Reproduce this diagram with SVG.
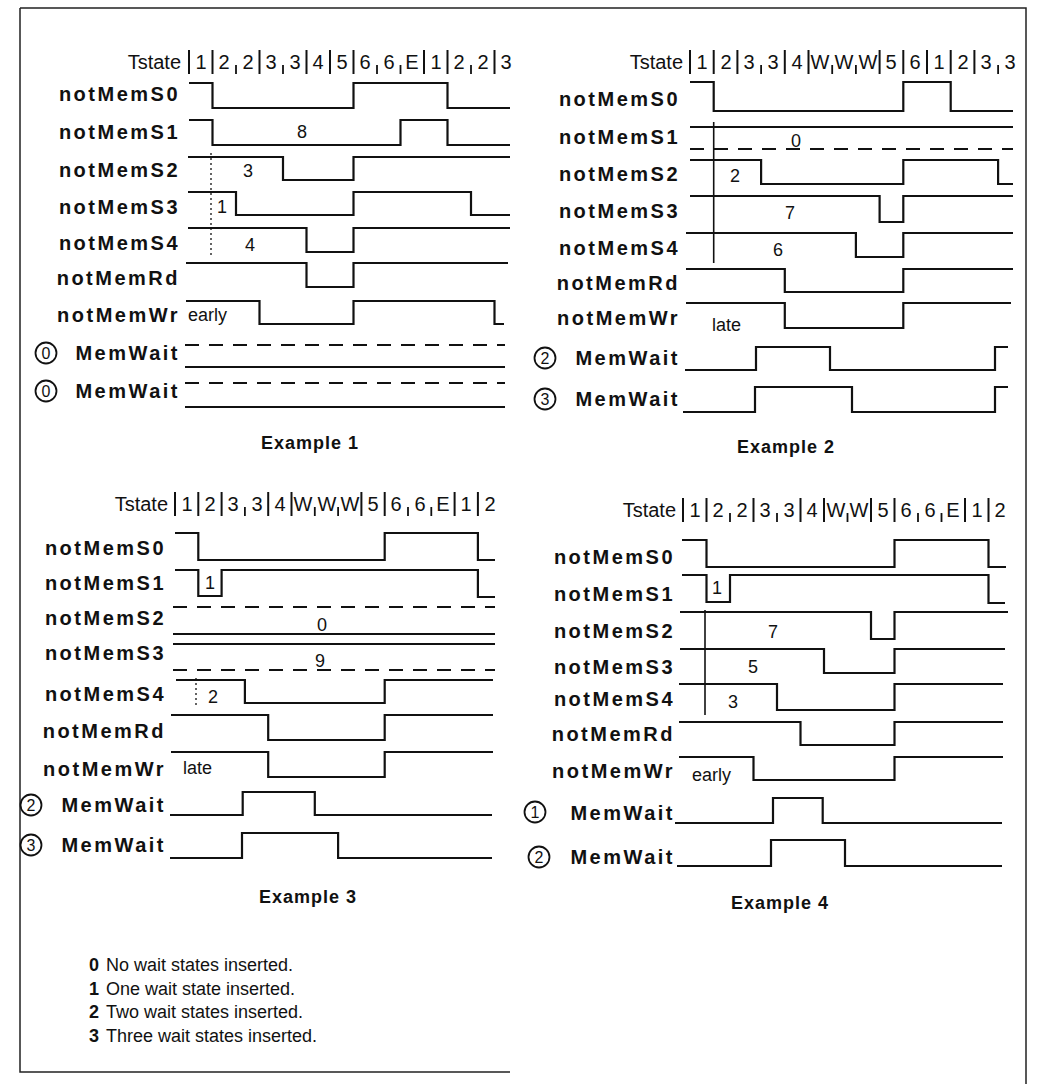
<svg xmlns="http://www.w3.org/2000/svg" width="1042" height="1084" viewBox="0 0 1042 1084">
<style>
.lbl{font-family:"Liberation Sans",Arial,sans-serif;font-weight:bold;font-size:20px;letter-spacing:2.5px;text-anchor:end;fill:#111}
.ts{font-family:"Liberation Sans",Arial,sans-serif;font-size:20px;fill:#111;text-anchor:middle}
.tsw{font-family:"Liberation Sans",Arial,sans-serif;font-size:20px;fill:#111;text-anchor:end}
.n{font-family:"Liberation Sans",Arial,sans-serif;font-size:18px;fill:#111;text-anchor:middle}
.nl{font-family:"Liberation Sans",Arial,sans-serif;font-size:18px;fill:#111}
.w{fill:none;stroke:#111;stroke-width:2.2}
.d{fill:none;stroke:#111;stroke-width:2.2;stroke-dasharray:14 10}
.dot{stroke:#111;stroke-width:1.3;stroke-dasharray:2 3}
.vl{stroke:#111;stroke-width:1.6}
.bar{stroke:#111;stroke-width:2}
.tk{stroke:#111;stroke-width:1.8}
.ex{font-family:"Liberation Sans",Arial,sans-serif;font-weight:bold;font-size:18px;letter-spacing:1px;text-anchor:middle;fill:#111}
.c{fill:none;stroke:#111;stroke-width:1.8}
.cn{font-family:"Liberation Sans",Arial,sans-serif;font-size:16px;fill:#111;text-anchor:middle}
.lg{font-family:"Liberation Sans",Arial,sans-serif;font-size:18px;fill:#111}
.lgb{font-family:"Liberation Sans",Arial,sans-serif;font-size:18px;font-weight:bold;fill:#111}
.frame{fill:none;stroke:#222;stroke-width:1.5}
</style>

<path class="frame" d="M20,8 H1026 V1084 M20,8 V1072 H510"/>

<!-- Example 1 -->
<g id="ex1">
  <g id="ex1-tstate">
    <text class="tsw" x="181" y="69">Tstate</text>
    <g>
      <line class="bar" x1="189" y1="50" x2="189" y2="74"/>
      <line class="bar" x1="212.5" y1="50" x2="212.5" y2="74"/>
      <line class="tk" x1="236" y1="65" x2="236" y2="74"/>
      <line class="bar" x1="259.5" y1="50" x2="259.5" y2="74"/>
      <line class="tk" x1="283" y1="65" x2="283" y2="74"/>
      <line class="bar" x1="306.5" y1="50" x2="306.5" y2="74"/>
      <line class="bar" x1="330" y1="50" x2="330" y2="74"/>
      <line class="bar" x1="353.5" y1="50" x2="353.5" y2="74"/>
      <line class="tk" x1="377" y1="65" x2="377" y2="74"/>
      <line class="tk" x1="400.5" y1="65" x2="400.5" y2="74"/>
      <line class="bar" x1="424" y1="50" x2="424" y2="74"/>
      <line class="bar" x1="447.5" y1="50" x2="447.5" y2="74"/>
      <line class="tk" x1="471" y1="65" x2="471" y2="74"/>
      <line class="bar" x1="494.5" y1="50" x2="494.5" y2="74"/>
    </g>
    <text class="ts" x="201" y="69">1</text>
    <text class="ts" x="224" y="69">2</text>
    <text class="ts" x="248" y="69">2</text>
    <text class="ts" x="271" y="69">3</text>
    <text class="ts" x="295" y="69">3</text>
    <text class="ts" x="318" y="69">4</text>
    <text class="ts" x="342" y="69">5</text>
    <text class="ts" x="365" y="69">6</text>
    <text class="ts" x="389" y="69">6</text>
    <text class="ts" x="412" y="69">E</text>
    <text class="ts" x="436" y="69">1</text>
    <text class="ts" x="459" y="69">2</text>
    <text class="ts" x="483" y="69">2</text>
    <text class="ts" x="506" y="69">3</text>
  </g>
  <g id="ex1-s0"><text class="lbl" x="180" y="101">notMemS0</text>
    <polyline class="w" points="189,83 212.5,83 212.5,108 353.5,108 353.5,83 447.5,83 447.5,108 510,108"/></g>
  <g id="ex1-s1"><text class="lbl" x="180" y="139">notMemS1</text>
    <polyline class="w" points="189,120 212.5,120 212.5,145 400.5,145 400.5,120 447.5,120 447.5,145 510,145"/>
    <text class="n" x="302" y="138">8</text></g>
  <g id="ex1-s2"><text class="lbl" x="180" y="177">notMemS2</text>
    <polyline class="w" points="188,157 283,157 283,180 353.5,180 353.5,157 510,157"/>
    <text class="n" x="248" y="177">3</text></g>
  <g id="ex1-s3"><text class="lbl" x="180" y="214">notMemS3</text>
    <polyline class="w" points="188,192 236,192 236,215 353.5,215 353.5,192 471,192 471,215 510,215"/>
    <text class="n" x="222" y="213">1</text></g>
  <g id="ex1-s4"><text class="lbl" x="180" y="250">notMemS4</text>
    <polyline class="w" points="188,228 306.5,228 306.5,252 353.5,252 353.5,228 510,228"/>
    <text class="n" x="250" y="251">4</text></g>
  <line class="dot" x1="211" y1="153" x2="211" y2="257"/>
  <g id="ex1-rd"><text class="lbl" x="180" y="285">notMemRd</text>
    <polyline class="w" points="186,263 306.5,263 306.5,287 353.5,287 353.5,263 508,263"/></g>
  <g id="ex1-wr"><text class="lbl" x="180" y="322">notMemWr</text>
    <polyline class="w" points="186,301 259.5,301 259.5,324 353.5,324 353.5,301 494.5,301 494.5,324 504,324"/>
    <text class="nl" x="188" y="321">early</text></g>
  <g id="ex1-mw0a">
    <circle class="c" cx="46" cy="353" r="10.5"/><text class="cn" x="46" y="359">0</text>
    <text class="lbl" x="180" y="360">MemWait</text>
    <line class="d" x1="185" y1="345" x2="505" y2="345"/>
    <line class="w" x1="185" y1="367" x2="505" y2="367"/></g>
  <g id="ex1-mw0b">
    <circle class="c" cx="46" cy="391" r="10.5"/><text class="cn" x="46" y="397">0</text>
    <text class="lbl" x="180" y="398">MemWait</text>
    <line class="d" x1="185" y1="383" x2="505" y2="383"/>
    <line class="w" x1="185" y1="407" x2="505" y2="407"/></g>
  <text class="ex" x="310" y="449">Example 1</text>
</g>

<!-- Example 2 -->
<g id="ex2">
  <g id="ex2-tstate">
    <text class="tsw" x="683" y="69">Tstate</text>
    <line class="bar" x1="690" y1="50" x2="690" y2="74"/>
    <line class="bar" x1="713.7" y1="50" x2="713.7" y2="74"/>
    <line class="bar" x1="737.4" y1="50" x2="737.4" y2="74"/>
    <line class="tk" x1="761.1" y1="65" x2="761.1" y2="74"/>
    <line class="bar" x1="784.8" y1="50" x2="784.8" y2="74"/>
    <line class="bar" x1="808.5" y1="50" x2="808.5" y2="74"/>
    <line class="tk" x1="832.2" y1="65" x2="832.2" y2="74"/>
    <line class="tk" x1="855.9" y1="65" x2="855.9" y2="74"/>
    <line class="bar" x1="879.6" y1="50" x2="879.6" y2="74"/>
    <line class="bar" x1="903.3" y1="50" x2="903.3" y2="74"/>
    <line class="bar" x1="927" y1="50" x2="927" y2="74"/>
    <line class="bar" x1="950.7" y1="50" x2="950.7" y2="74"/>
    <line class="bar" x1="974.4" y1="50" x2="974.4" y2="74"/>
    <line class="tk" x1="998.1" y1="65" x2="998.1" y2="74"/>
    <text class="ts" x="702" y="69">1</text>
    <text class="ts" x="726" y="69">2</text>
    <text class="ts" x="749" y="69">3</text>
    <text class="ts" x="773" y="69">3</text>
    <text class="ts" x="797" y="69">4</text>
    <text class="ts" x="820" y="69">W</text>
    <text class="ts" x="844" y="69">W</text>
    <text class="ts" x="868" y="69">W</text>
    <text class="ts" x="891" y="69">5</text>
    <text class="ts" x="915" y="69">6</text>
    <text class="ts" x="939" y="69">1</text>
    <text class="ts" x="963" y="69">2</text>
    <text class="ts" x="986" y="69">3</text>
    <text class="ts" x="1010" y="69">3</text>
  </g>
  <g id="ex2-s0"><text class="lbl" x="680" y="106">notMemS0</text>
    <polyline class="w" points="690,82 713.7,82 713.7,111 903.3,111 903.3,82 950.7,82 950.7,111 1013,111"/></g>
  <g id="ex2-s1"><text class="lbl" x="680" y="144">notMemS1</text>
    <line class="w" x1="690" y1="127" x2="1013" y2="127"/>
    <line class="d" x1="690" y1="149" x2="1013" y2="149"/>
    <text class="n" x="796" y="147">0</text></g>
  <g id="ex2-s2"><text class="lbl" x="680" y="181">notMemS2</text>
    <polyline class="w" points="690,160 761.1,160 761.1,184 903.3,184 903.3,160 998.1,160 998.1,184 1013,184"/>
    <text class="n" x="735" y="182">2</text></g>
  <g id="ex2-s3"><text class="lbl" x="680" y="218">notMemS3</text>
    <polyline class="w" points="690,196 879.6,196 879.6,222 903.3,222 903.3,196 1013,196"/>
    <text class="n" x="790" y="219">7</text></g>
  <g id="ex2-s4"><text class="lbl" x="680" y="255">notMemS4</text>
    <polyline class="w" points="686,233 855.9,233 855.9,257 903.3,257 903.3,233 1013,233"/>
    <text class="n" x="778" y="256">6</text></g>
  <line class="vl" x1="713.7" y1="122" x2="713.7" y2="263"/>
  <g id="ex2-rd"><text class="lbl" x="680" y="290">notMemRd</text>
    <polyline class="w" points="686,269 784.8,269 784.8,292 903.3,292 903.3,269 1013,269"/></g>
  <g id="ex2-wr"><text class="lbl" x="680" y="325">notMemWr</text>
    <polyline class="w" points="686,303 784.8,303 784.8,328 903.3,328 903.3,303 1011,303"/>
    <text class="nl" x="712" y="331">late</text></g>
  <g id="ex2-mw2">
    <circle class="c" cx="545" cy="358" r="10.5"/><text class="cn" x="545" y="364">2</text>
    <text class="lbl" x="680" y="365">MemWait</text>
    <polyline class="w" points="685,370 756,370 756,347 830,347 830,370 995,370 995,347 1008,347"/></g>
  <g id="ex2-mw3">
    <circle class="c" cx="545" cy="399" r="10.5"/><text class="cn" x="545" y="405">3</text>
    <text class="lbl" x="680" y="406">MemWait</text>
    <polyline class="w" points="683,412 755,412 755,387 852,387 852,412 995,412 995,387 1008,387"/></g>
  <text class="ex" x="786" y="453">Example 2</text>
</g>

<!-- Example 3 -->
<g id="ex3">
  <g id="ex3-tstate">
    <text class="tsw" x="168" y="511">Tstate</text>
    <line class="bar" x1="175" y1="492" x2="175" y2="516"/>
    <line class="bar" x1="198.3" y1="492" x2="198.3" y2="516"/>
    <line class="bar" x1="221.6" y1="492" x2="221.6" y2="516"/>
    <line class="tk" x1="244.9" y1="507" x2="244.9" y2="516"/>
    <line class="bar" x1="268.2" y1="492" x2="268.2" y2="516"/>
    <line class="bar" x1="291.5" y1="492" x2="291.5" y2="516"/>
    <line class="tk" x1="314.8" y1="507" x2="314.8" y2="516"/>
    <line class="tk" x1="338.1" y1="507" x2="338.1" y2="516"/>
    <line class="bar" x1="361.4" y1="492" x2="361.4" y2="516"/>
    <line class="bar" x1="384.7" y1="492" x2="384.7" y2="516"/>
    <line class="tk" x1="408" y1="507" x2="408" y2="516"/>
    <line class="tk" x1="431.3" y1="507" x2="431.3" y2="516"/>
    <line class="bar" x1="454.6" y1="492" x2="454.6" y2="516"/>
    <line class="bar" x1="477.9" y1="492" x2="477.9" y2="516"/>
    <text class="ts" x="187" y="511">1</text>
    <text class="ts" x="210" y="511">2</text>
    <text class="ts" x="233" y="511">3</text>
    <text class="ts" x="257" y="511">3</text>
    <text class="ts" x="280" y="511">4</text>
    <text class="ts" x="303" y="511">W</text>
    <text class="ts" x="327" y="511">W</text>
    <text class="ts" x="350" y="511">W</text>
    <text class="ts" x="373" y="511">5</text>
    <text class="ts" x="396" y="511">6</text>
    <text class="ts" x="420" y="511">6</text>
    <text class="ts" x="443" y="511">E</text>
    <text class="ts" x="466" y="511">1</text>
    <text class="ts" x="490" y="511">2</text>
  </g>
  <g id="ex3-s0"><text class="lbl" x="166" y="555">notMemS0</text>
    <polyline class="w" points="175,533 198.3,533 198.3,560 384.7,560 384.7,533 477.9,533 477.9,560 495,560"/></g>
  <g id="ex3-s1"><text class="lbl" x="166" y="590">notMemS1</text>
    <polyline class="w" points="175,570 198.3,570 198.3,596 221.6,596 221.6,570 477.9,570 477.9,597 495,597"/>
    <text class="n" x="210" y="589">1</text></g>
  <g id="ex3-s2"><text class="lbl" x="166" y="625">notMemS2</text>
    <line class="d" x1="173" y1="607" x2="495" y2="607"/>
    <line class="w" x1="173" y1="634" x2="495" y2="634"/>
    <text class="n" x="322" y="631">0</text></g>
  <g id="ex3-s3"><text class="lbl" x="166" y="660">notMemS3</text>
    <line class="w" x1="173" y1="644" x2="495" y2="644"/>
    <line class="d" x1="173" y1="670" x2="495" y2="670"/>
    <text class="n" x="320" y="667">9</text></g>
  <g id="ex3-s4"><text class="lbl" x="166" y="701">notMemS4</text>
    <polyline class="w" points="176,680 244.9,680 244.9,703 384.7,703 384.7,680 493,680"/>
    <text class="n" x="213" y="703">2</text></g>
  <line class="dot" x1="196" y1="678" x2="196" y2="706"/>
  <g id="ex3-rd"><text class="lbl" x="166" y="738">notMemRd</text>
    <polyline class="w" points="171,715 268.2,715 268.2,740 384.7,740 384.7,715 493,715"/></g>
  <g id="ex3-wr"><text class="lbl" x="166" y="776">notMemWr</text>
    <polyline class="w" points="171,752 268.2,752 268.2,777 384.7,777 384.7,752 493,752"/>
    <text class="nl" x="183" y="774">late</text></g>
  <g id="ex3-mw2">
    <circle class="c" cx="31" cy="805" r="10.5"/><text class="cn" x="31" y="811">2</text>
    <text class="lbl" x="166" y="812">MemWait</text>
    <polyline class="w" points="170,815 242.7,815 242.7,792 314.8,792 314.8,815 492,815"/></g>
  <g id="ex3-mw3">
    <circle class="c" cx="31" cy="845" r="10.5"/><text class="cn" x="31" y="851">3</text>
    <text class="lbl" x="166" y="852">MemWait</text>
    <polyline class="w" points="170,858 242,858 242,833 338.1,833 338.1,858 492,858"/></g>
  <text class="ex" x="308" y="903">Example 3</text>
</g>

<!-- Example 4 -->
<g id="ex4">
  <g id="ex4-tstate">
    <text class="tsw" x="676" y="517">Tstate</text>
    <line class="bar" x1="683" y1="498" x2="683" y2="522"/>
    <line class="bar" x1="706.5" y1="498" x2="706.5" y2="522"/>
    <line class="tk" x1="730" y1="513" x2="730" y2="522"/>
    <line class="bar" x1="753.5" y1="498" x2="753.5" y2="522"/>
    <line class="tk" x1="777" y1="513" x2="777" y2="522"/>
    <line class="bar" x1="800.5" y1="498" x2="800.5" y2="522"/>
    <line class="bar" x1="824" y1="498" x2="824" y2="522"/>
    <line class="tk" x1="847.5" y1="513" x2="847.5" y2="522"/>
    <line class="bar" x1="871" y1="498" x2="871" y2="522"/>
    <line class="bar" x1="894.5" y1="498" x2="894.5" y2="522"/>
    <line class="tk" x1="918" y1="513" x2="918" y2="522"/>
    <line class="tk" x1="941.5" y1="513" x2="941.5" y2="522"/>
    <line class="bar" x1="965" y1="498" x2="965" y2="522"/>
    <line class="bar" x1="988.5" y1="498" x2="988.5" y2="522"/>
    <text class="ts" x="695" y="517">1</text>
    <text class="ts" x="718" y="517">2</text>
    <text class="ts" x="742" y="517">2</text>
    <text class="ts" x="765" y="517">3</text>
    <text class="ts" x="789" y="517">3</text>
    <text class="ts" x="812" y="517">4</text>
    <text class="ts" x="836" y="517">W</text>
    <text class="ts" x="859" y="517">W</text>
    <text class="ts" x="883" y="517">5</text>
    <text class="ts" x="906" y="517">6</text>
    <text class="ts" x="930" y="517">6</text>
    <text class="ts" x="953" y="517">E</text>
    <text class="ts" x="977" y="517">1</text>
    <text class="ts" x="1000" y="517">2</text>
  </g>
  <g id="ex4-s0"><text class="lbl" x="675" y="564">notMemS0</text>
    <polyline class="w" points="682,540 706.5,540 706.5,567 894.5,567 894.5,540 988.5,540 988.5,567 1006,567"/></g>
  <g id="ex4-s1"><text class="lbl" x="675" y="601">notMemS1</text>
    <polyline class="w" points="682,575 706.5,575 706.5,602 730,602 730,575 988.5,575 988.5,603 1005,603"/>
    <text class="n" x="717" y="594">1</text></g>
  <g id="ex4-s2"><text class="lbl" x="675" y="638">notMemS2</text>
    <polyline class="w" points="680,612 871,612 871,639 894.5,639 894.5,612 1008,612"/>
    <text class="n" x="773" y="638">7</text></g>
  <g id="ex4-s3"><text class="lbl" x="675" y="674">notMemS3</text>
    <polyline class="w" points="680,649 824,649 824,673 894.5,673 894.5,649 1005,649"/>
    <text class="n" x="753" y="673">5</text></g>
  <g id="ex4-s4"><text class="lbl" x="675" y="706">notMemS4</text>
    <polyline class="w" points="679,684 777,684 777,710 894.5,710 894.5,684 1003,684"/>
    <text class="n" x="733" y="708">3</text></g>
  <line class="vl" x1="705" y1="610" x2="705" y2="715"/>
  <g id="ex4-rd"><text class="lbl" x="675" y="741">notMemRd</text>
    <polyline class="w" points="679,722 800.5,722 800.5,745 894.5,745 894.5,722 1003,722"/></g>
  <g id="ex4-wr"><text class="lbl" x="675" y="778">notMemWr</text>
    <polyline class="w" points="679,757 753.5,757 753.5,780 894.5,780 894.5,757 1003,757"/>
    <text class="nl" x="692" y="781">early</text></g>
  <g id="ex4-mw1">
    <circle class="c" cx="535" cy="812" r="10.5"/><text class="cn" x="535" y="818">1</text>
    <text class="lbl" x="675" y="820">MemWait</text>
    <polyline class="w" points="675,823 773,823 773,798 822.7,798 822.7,823 1002,823"/></g>
  <g id="ex4-mw2">
    <circle class="c" cx="539" cy="857" r="10.5"/><text class="cn" x="539" y="863">2</text>
    <text class="lbl" x="675" y="864">MemWait</text>
    <polyline class="w" points="677,866 771,866 771,840 845,840 845,866 1002,866"/></g>
  <text class="ex" x="780" y="909">Example 4</text>
</g>

<!-- Legend -->
<g id="legend">
  <text class="lgb" x="89" y="971">0</text><text class="lg" x="106" y="971">No wait states inserted.</text>
  <text class="lgb" x="89" y="995">1</text><text class="lg" x="106" y="995">One wait state inserted.</text>
  <text class="lgb" x="89" y="1018">2</text><text class="lg" x="106" y="1018">Two wait states inserted.</text>
  <text class="lgb" x="89" y="1042">3</text><text class="lg" x="106" y="1042">Three wait states inserted.</text>
</g>
</svg>
